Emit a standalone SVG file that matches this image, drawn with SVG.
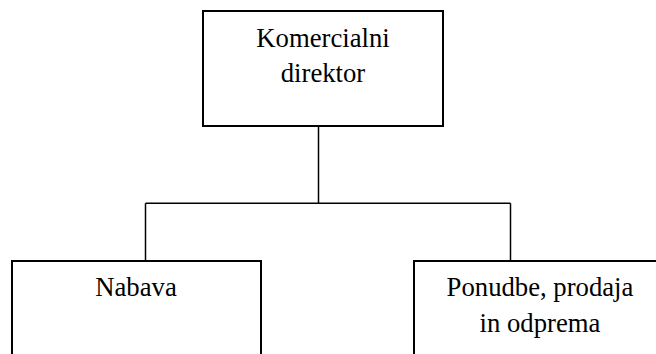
<svg xmlns="http://www.w3.org/2000/svg" width="656" height="354" viewBox="0 0 656 354">
  <style>
    .box { fill: #ffffff; stroke: #000000; stroke-width: 2; }
    .link { fill: none; stroke: #000000; stroke-width: 1.5; }
    text { font-family: 'Liberation Serif', Tinos, 'Times New Roman', Times, 'DejaVu Serif', serif; font-size: 26.7px; fill: #000000; text-anchor: middle; }
  </style>
  <rect width="656" height="354" fill="#ffffff"/>

  <!-- connectors -->
  <g id="connectors">
    <path class="link" d="M318.5 126 V203.25"/>
    <path class="link" d="M145.5 203.25 H510.5"/>
    <path class="link" d="M145.5 203.25 V261"/>
    <path class="link" d="M510.5 203.25 V261"/>
  </g>

  <!-- Komercialni direktor -->
  <g id="node-komercialni-direktor">
    <rect class="box" x="203" y="11" width="240" height="115"/>
    <text x="323" y="47">Komercialni</text>
    <text x="323" y="82">direktor</text>
  </g>

  <!-- Nabava -->
  <g id="node-nabava">
    <rect class="box" x="12" y="261" width="249" height="120"/>
    <text x="136" y="296">Nabava</text>
  </g>

  <!-- Ponudbe, prodaja in odprema -->
  <g id="node-ponudbe">
    <rect class="box" x="414" y="261" width="252" height="120"/>
    <text x="540" y="296">Ponudbe, prodaja</text>
    <text x="540" y="332">in odprema</text>
  </g>
</svg>
